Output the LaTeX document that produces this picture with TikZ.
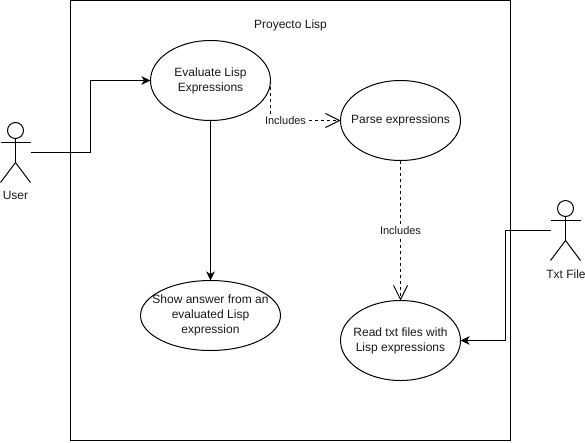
\documentclass[tikz,border=0pt]{standalone}
\usepackage{fontspec}
\setmainfont{Liberation Sans}
\usetikzlibrary{arrows.meta,shapes.geometric,calc}
\tikzset{
  base/.style={line width=1pt,draw=black},
  uc/.style={base,ellipse,fill=white,inner sep=0pt,outer sep=0pt},
  uctext/.style={align=center,inner sep=0pt,text=black!90,font=\fontsize{12}{15}\selectfont},
  sysbox/.style={base,rectangle,inner sep=0pt,outer sep=0pt,minimum width=440pt,minimum height=440pt},
  actorbox/.style={rectangle,inner sep=0pt,outer sep=0pt,minimum width=30pt,minimum height=60pt},
  txt/.style={inner sep=0pt,text=black!90,font=\fontsize{12}{15}\selectfont},
  lbl/.style={fill=white,inner sep=1pt,text=black!90,font=\fontsize{11}{13}\selectfont},
  flow/.style={base,-{Stealth[length=9pt,width=8.5pt,inset=2.5pt]}},
  incl/.style={base,dash pattern=on 3pt off 3pt,-{Straight Barb[length=14pt,width=14pt,line width=1pt]}},
}
\begin{document}
\begin{tikzpicture}[x=1pt,y=-1pt]
\useasboundingbox (0,0) rectangle (585,442);
\node[sysbox] (sys) at (290.5,220.5) {};
\node[txt] (title) at (290.5,25) {Proyecto Lisp};
\node[uc,minimum width=120pt,minimum height=80pt,label={[uctext]center:{Evaluate Lisp\\Expressions}}] (eval) at (210.5,80.5) {};
\node[uc,minimum width=120pt,minimum height=80pt,label={[uctext]center:{Parse expressions}}] (parse) at (400.5,120.5) {};
\node[uc,minimum width=140pt,minimum height=70pt,label={[uctext]center:{Show answer from an\\evaluated Lisp\\expression}}] (show) at (210.5,315.5) {};
\node[uc,minimum width=120pt,minimum height=80pt,label={[uctext]center:{Read txt files with\\Lisp expressions}}] (read) at (400.5,340.5) {};
% actors
\node[actorbox] (user) at (15.5,152.5) {};
\node[actorbox] (file) at (565.5,230.5) {};
\foreach \a in {user,file}{
  \draw[base] ($(\a.north)+(0,8)$) circle[radius=8];
  \draw[base] ($(\a.north)+(0,16)$) -- ($(\a.north)+(0,40)$);
  \draw[base] ($(\a.north)+(-15,20)$) -- ($(\a.north)+(15,20)$);
  \draw[base] ($(\a.south west)$) -- ($(\a.north)+(0,40)$) -- (\a.south east);
}
\node[txt] (userlabel) at (15.5,195.5) {User};
\node[txt] (filelabel) at (566,274) {Txt File};
% connectors
\coordinate (ubend) at (90.5,152.5);
\coordinate (fbend) at (505.5,230.5);
\draw[flow] (user.east) -- (ubend) |- (eval.west);
\draw[flow] (file.west) -- (fbend) |- (read.east);
\draw[flow] (eval.south) -- (show.north);
\draw[incl] (eval.east) |- (parse.west);
\draw[incl] (parse.south) -- (read.north);
\node[lbl] (inc1) at (285.5,120.5) {Includes};
\node[lbl] (inc2) at (400.5,230.5) {Includes};
\end{tikzpicture}
\end{document}
